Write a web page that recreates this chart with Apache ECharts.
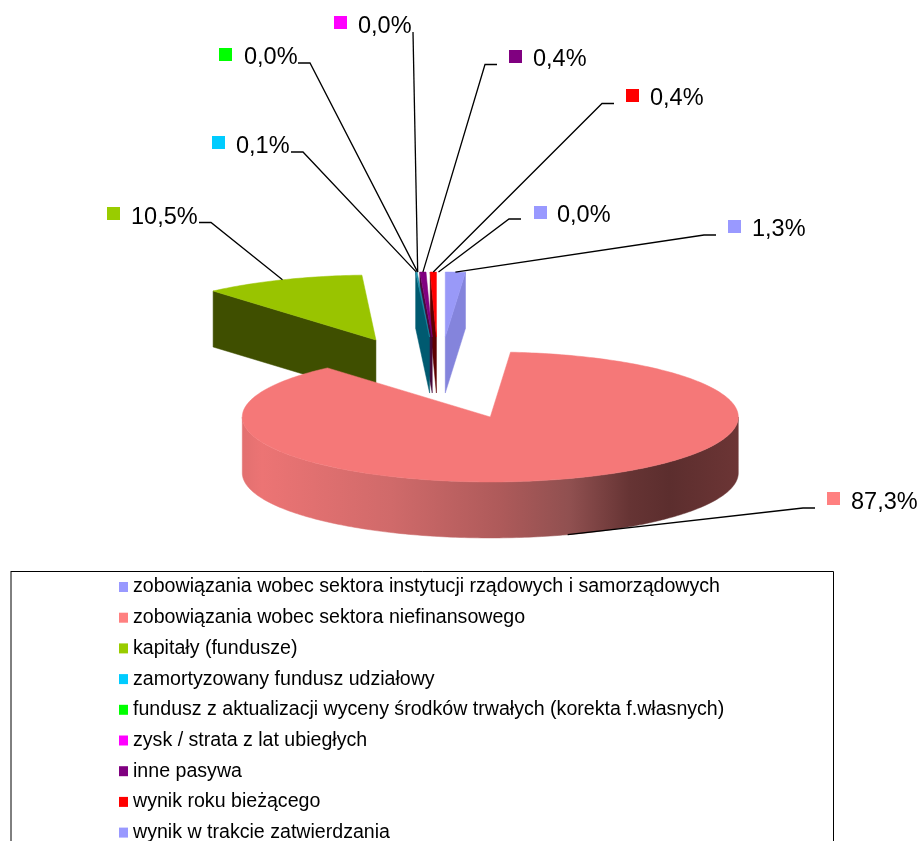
<!DOCTYPE html>
<html>
<head>
<meta charset="utf-8">
<title>Pasywa</title>
<script src="https://cdn.jsdelivr.net/npm/echarts@6/dist/echarts.min.js"></script>
<style>
html, body { margin: 0; padding: 0; background: #fff; }
#chart { width: 919px; height: 841px; }
</style>
</head>
<body>
<div id="chart"></div>
<script>
var categories = [
	'zobowiązania wobec sektora instytucji rządowych i samorządowych',
	'zobowiązania wobec sektora niefinansowego',
	'kapitały (fundusze)',
	'zamortyzowany fundusz udziałowy',
	'fundusz z aktualizacji wyceny środków trwałych (korekta f.własnych)',
	'zysk / strata z lat ubiegłych',
	'inne pasywa',
	'wynik roku bieżącego',
	'wynik w trakcie zatwierdzania'
];
var values = [1.3, 87.3, 10.5, 0.1, 0.0, 0.0, 0.4, 0.4, 0.0];

var legendColors = ['#9999FF', '#FF8080', '#99CC00', '#00CCFF', '#00FF00', '#FF00FF', '#800080', '#FF0000', '#9999FF'];
var topColors = ['#9999F8', '#F57878', '#99C400', '#1A90AA', '#00FF00', '#FF00FF', '#800080', '#FF0000', '#9999FF'];
var wallColors = ['#8484DC', null, '#3F4F00', '#005A70', '#008000', '#800080', '#4A0A3A', '#5E0000', '#8484DC'];

// back to front
var drawOrder = [2, 8, 7, 6, 5, 4, 3, 0, 1];

// label block of each slice: swatch corner, text start, baseline, leader knee and leader start
var swatchPos = [[728, 220], [827, 492], [107, 207], [212, 136], [219, 48], [334, 16], [509, 50], [626, 89], [534, 206]];
var textPos = [[752, 235], [851, 508], [131, 223], [236, 152], [244, 63], [358, 32], [533, 65], [650, 104], [557, 221]];
var leaderPos = [
	[[716, 235], [704, 235]],
	[[815, 508], [803, 508]],
	[[199, 222.5], [211, 222.5]],
	[[291, 152], [303, 152]],
	[[298, 63], [310, 63]],
	[[413, 32]],
	[[497, 64.5], [485, 64.5]],
	[[614, 103.5], [602, 103.5]],
	[[521, 219], [509, 219]]
];

var pie = { cx: 438.5, cy: 378, rx: 248, ry: 65, wall: 56, explodeX: 166, explodeY: 41 };
var total = values.reduce(function(a, b) { return a + b; }, 0);

var slices = [];
var acc = 0;
values.forEach(function(v) {
	var start = acc / total * 360;
	acc += v;
	var end = acc / total * 360;
	var mid = (start + end) / 2 * Math.PI / 180;
	slices.push({
		start: start,
		end: end,
		mid: (start + end) / 2,
		x: pie.cx + pie.explodeX * Math.sin(mid),
		y: pie.cy - pie.explodeY * Math.cos(mid)
	});
});

function rim(s, deg, drop) {
	var r = deg * Math.PI / 180;
	return [s.x + pie.rx * Math.sin(r), s.y - pie.ry * Math.cos(r) + (drop || 0)];
}

function arc(s, from, to, drop) {
	var pts = [];
	var n = Math.max(1, Math.ceil(Math.abs(to - from)));
	for (var i = 0; i <= n; i++) {
		pts.push(rim(s, from + (to - from) * i / n, drop));
	}
	return pts;
}

function polygon(points, fill) {
	return { type: 'polygon', shape: { points: points }, style: { fill: fill, stroke: fill, lineWidth: 0.5 } };
}

function wallFill(i) {
	if (wallColors[i]) return wallColors[i];
	return new echarts.graphic.LinearGradient(0, 0, 1, 0, [
		{ offset: 0, color: '#E27070' },
		{ offset: 0.04, color: '#EC7474' },
		{ offset: 0.3, color: '#D06A6A' },
		{ offset: 0.52, color: '#AE5A5A' },
		{ offset: 0.66, color: '#905050' },
		{ offset: 0.78, color: '#663434' },
		{ offset: 0.86, color: '#5C2E2E' },
		{ offset: 1, color: '#6C3535' }
	]);
}

function renderSlice(i) {
	var s = slices[i];
	var children = [];
	var apex = [s.x, s.y];
	var apexLow = [s.x, s.y + pie.wall];
	if (s.end > s.start) {
		// cut faces which turn to the viewer
		if (s.start > 180) {
			var a = rim(s, s.start);
			children.push(polygon([a, apex, apexLow, rim(s, s.start, pie.wall)], wallFill(i)));
		}
		if (s.end < 180) {
			var b = rim(s, s.end);
			children.push(polygon([b, apex, apexLow, rim(s, s.end, pie.wall)], wallFill(i)));
		}
		// outer wall
		var from = Math.max(s.start, 90);
		var to = Math.min(s.end, 270);
		if (to > from) {
			children.push(polygon(arc(s, from, to, 0).concat(arc(s, to, from, pie.wall)), wallFill(i)));
		}
		children.push(polygon([apex].concat(arc(s, s.start, s.end, 0)), topColors[i]));
	}

	// leader ends on the rim, on the lower edge for the front slice
	var tip = rim(s, s.mid, s.mid > 90 && s.mid < 270 ? pie.wall : 0);
	children.push({
		type: 'polyline',
		shape: { points: leaderPos[i].concat([tip]) },
		style: { fill: null, stroke: '#000', lineWidth: 1.3 }
	});
	children.push({
		type: 'rect',
		shape: { x: swatchPos[i][0], y: swatchPos[i][1], width: 13, height: 13 },
		style: { fill: legendColors[i] }
	});
	children.push({
		type: 'text',
		style: {
			text: values[i].toFixed(1).replace('.', ',') + '%',
			x: textPos[i][0],
			y: textPos[i][1] - 5.5,
			verticalAlign: 'middle',
			fill: '#000',
			fontSize: 23.5,
			fontFamily: '"Liberation Sans", Arial, sans-serif'
		}
	});
	return { type: 'group', children: children };
}

var chart = echarts.init(document.getElementById('chart'), null, { renderer: 'canvas' });

chart.setOption({
	animation: false,
	backgroundColor: '#fff',
	legend: {
		orient: 'vertical',
		left: 119,
		top: 576,
		width: 780,
		height: 300,
		padding: 0,
		itemWidth: 9,
		itemHeight: 10,
		itemGap: 8.7,
		icon: 'rect',
		selectedMode: false,
		textStyle: {
			color: '#000',
			fontSize: 19.6,
			lineHeight: 20,
			padding: [2, 0, 0, 0],
			fontFamily: '"Liberation Sans", Arial, sans-serif'
		},
		data: categories.map(function(name, i) {
			return { name: name, itemStyle: { color: legendColors[i] } };
		})
	},
	graphic: [
		{
			type: 'polyline',
			silent: true,
			shape: { points: [[11, 571.5], [833.5, 571.5], [833.5, 845]] },
			style: { fill: null, stroke: '#000', lineWidth: 1 }
		},
		{
			type: 'line',
			silent: true,
			shape: { x1: 11, y1: 571, x2: 11, y2: 845 },
			style: { stroke: '#000', lineWidth: 1 }
		}
	],
	series: drawOrder.map(function(i) {
		return {
			type: 'custom',
			name: categories[i],
			coordinateSystem: 'none',
			itemStyle: { color: legendColors[i] },
			data: [[values[i]]],
			renderItem: function() { return renderSlice(i); }
		};
	})
});
</script>
</body>
</html>
